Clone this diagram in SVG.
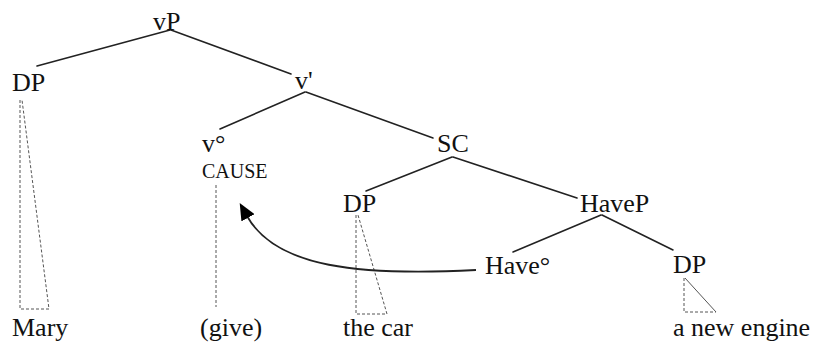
<svg xmlns="http://www.w3.org/2000/svg" width="816" height="342" viewBox="0 0 816 342">
  <style>
    text { font-family: "Liberation Serif", "Times New Roman", serif; font-size: 26px; fill: #111; }
    .small { font-size: 20px; }
    .branch { stroke: #222; stroke-width: 1.6; fill: none; stroke-linecap: round; }
    .dash { stroke: #555; stroke-width: 1; fill: none; stroke-dasharray: 3 2; }
    .solid-thin { stroke: #555; stroke-width: 1; fill: none; }
    .move { stroke: #222; stroke-width: 1.8; fill: none; }
  </style>
  <defs>
    <marker id="arrowhead" viewBox="0 0 17 15" refX="2" refY="7.5" markerWidth="17" markerHeight="15" markerUnits="userSpaceOnUse" orient="auto">
      <path d="M0,0 L17,7.5 L0,15 Z" fill="#000"/>
    </marker>
  </defs>

  <!-- tree branches -->
  <g id="connectors">
    <line class="branch" x1="170" y1="30" x2="37" y2="66"/>
    <line class="branch" x1="171" y1="30" x2="291" y2="74"/>
    <line class="branch" x1="305" y1="92" x2="220" y2="129"/>
    <line class="branch" x1="306" y1="92" x2="433" y2="138"/>
    <line class="branch" x1="452" y1="157" x2="366" y2="191"/>
    <line class="branch" x1="453" y1="157" x2="577" y2="198"/>
    <line class="branch" x1="601" y1="215" x2="513" y2="252"/>
    <line class="branch" x1="602" y1="215" x2="673" y2="250"/>

    <!-- triangles and dashed links to the words -->
    <path class="dash" d="M20,100 L20,309 L49,309 L22,100"/>
    <line class="dash" x1="216" y1="185" x2="216" y2="307"/>
    <path class="dash" d="M356,215 L356,314 L387,314 L358,215"/>
    <path class="dash" d="M684,278 L684,312 L716,312"/>
    <line class="solid-thin" x1="685" y1="278" x2="716" y2="312"/>

    <!-- head movement of Have° up to v° -->
    <path class="move" d="M476,270 C360,276 276,268 247,216" marker-end="url(#arrowhead)"/>
  </g>

  <g id="vP"><text x="153" y="30">vP</text></g>
  <g id="DP-subject"><text x="12" y="91">DP</text></g>
  <g id="v-bar"><text x="295" y="89">v'</text></g>
  <g id="v-head">
    <text x="202" y="152">v°</text>
    <text class="small" x="202" y="178">CAUSE</text>
  </g>
  <g id="SC"><text x="437" y="152">SC</text></g>
  <g id="DP-object"><text x="343" y="212">DP</text></g>
  <g id="HaveP"><text x="580" y="212">HaveP</text></g>
  <g id="Have-head"><text x="485" y="274">Have°</text></g>
  <g id="DP-possessed"><text x="673" y="273">DP</text></g>

  <g id="words">
    <text x="12" y="336">Mary</text>
    <text x="200" y="336">(give)</text>
    <text x="343" y="336">the car</text>
    <text x="673" y="336">a new engine</text>
  </g>
</svg>
